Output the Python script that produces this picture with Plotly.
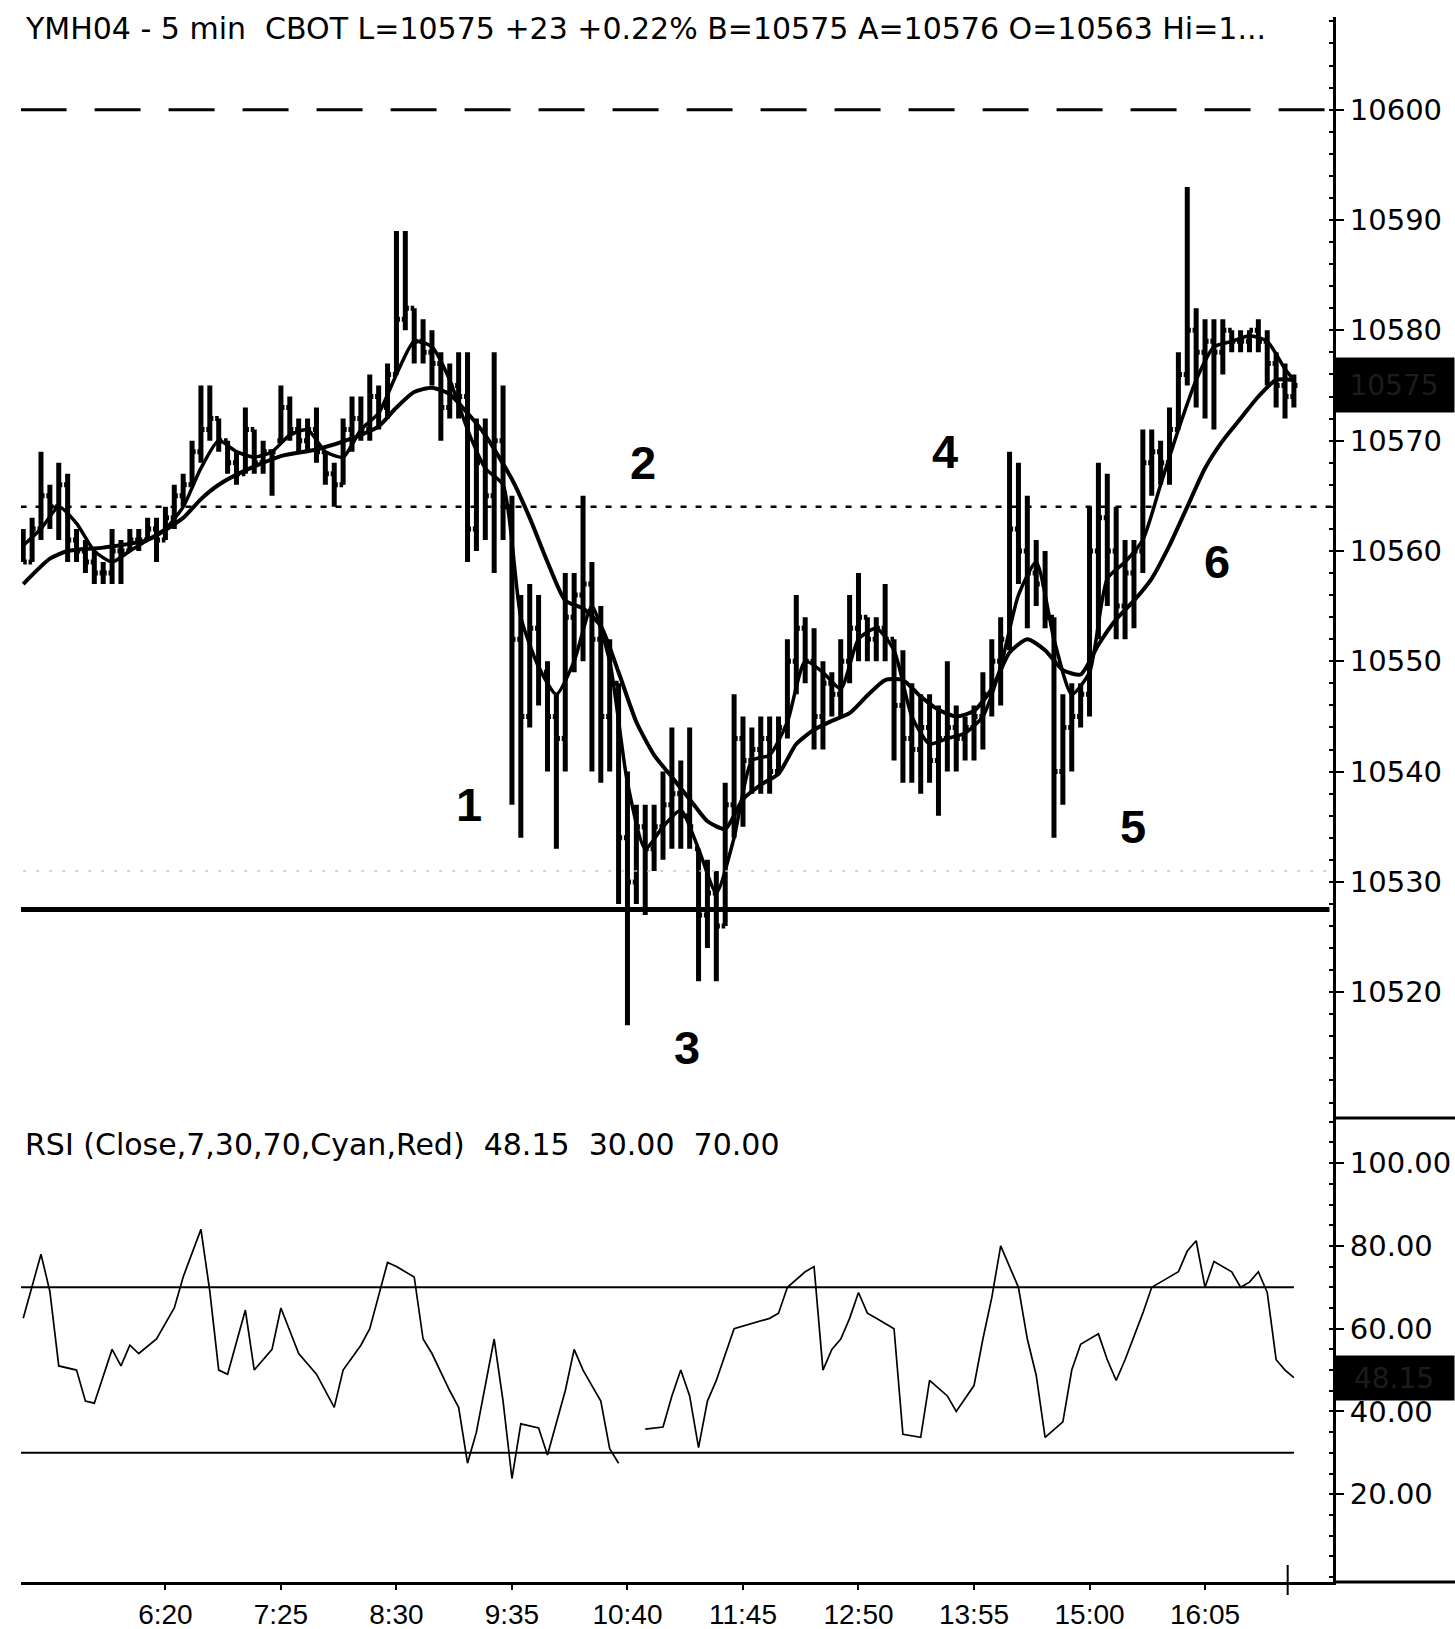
import plotly.graph_objects as go
from plotly.subplots import make_subplots

# ---- YM (mini-Dow) March 2004, 5-minute bars --------------------------------
bar_open = [
    10560, 10559, 10562, 10565, 10564, 10566, 10561, 10560, 10559, 10558,
    10558, 10560, 10560, 10561, 10561, 10562, 10561, 10563, 10565, 10566,
    10569, 10571, 10572, 10570, 10568, 10567, 10571, 10568, 10569, 10570,
    10573, 10571, 10570, 10571, 10569, 10567, 10566, 10571, 10572, 10571,
    10574, 10573, 10576, 10581, 10582, 10579, 10578, 10577, 10573, 10575,
    10574, 10562, 10568, 10565, 10570, 10564, 10552, 10545, 10553, 10549,
    10545, 10543, 10554, 10556, 10557, 10552, 10545, 10548, 10534, 10530,
    10535, 10533, 10535, 10537, 10538, 10536, 10533, 10527, 10529, 10526,
    10537, 10543, 10541, 10542, 10543, 10540, 10544, 10550, 10553, 10550,
    10545, 10548, 10547, 10550, 10553, 10554, 10552, 10553, 10552, 10546,
    10543, 10542, 10544, 10541, 10543, 10544, 10543, 10544, 10545, 10547,
    10550, 10552, 10562, 10560, 10558, 10557, 10554, 10540, 10544, 10545,
    10547, 10560, 10563, 10560, 10555, 10558, 10560, 10568, 10569, 10568,
    10571, 10576, 10580, 10578, 10579, 10578, 10580, 10579, 10579, 10580,
    10579, 10577, 10575, 10574,
]
bar_high = [
    10562, 10563, 10569, 10566, 10568, 10567, 10562, 10561, 10560, 10559,
    10562, 10561, 10562, 10562, 10563, 10563, 10564, 10566, 10567, 10570,
    10575, 10575, 10572, 10570, 10569, 10573, 10571, 10570, 10569, 10575,
    10574, 10572, 10572, 10573, 10569, 10568, 10572, 10574, 10574, 10576,
    10575, 10577, 10589, 10589, 10582, 10581, 10580, 10578, 10577, 10578,
    10578, 10572, 10572, 10578, 10575, 10565, 10556, 10557, 10556, 10550,
    10547, 10558, 10558, 10565, 10559, 10555, 10552, 10548, 10540, 10537,
    10537, 10537, 10540, 10544, 10541, 10544, 10533, 10532, 10531, 10539,
    10547, 10545, 10544, 10545, 10545, 10545, 10552, 10556, 10554, 10553,
    10550, 10549, 10552, 10556, 10558, 10554, 10554, 10557, 10552, 10551,
    10548, 10547, 10547, 10546, 10550, 10546, 10545, 10546, 10549, 10552,
    10554, 10569, 10568, 10565, 10561, 10560, 10554, 10547, 10548, 10548,
    10564, 10568, 10567, 10564, 10561, 10561, 10571, 10571, 10570, 10573,
    10578, 10593, 10582, 10581, 10581, 10581, 10580, 10580, 10580, 10581,
    10580, 10578, 10577, 10576,
]
bar_low = [
    10559, 10559, 10561, 10562, 10561, 10559, 10559, 10558, 10557, 10557,
    10557, 10557, 10560, 10560, 10561, 10559, 10561, 10562, 10564, 10566,
    10568, 10570, 10569, 10567, 10566, 10567, 10567, 10567, 10565, 10570,
    10570, 10569, 10569, 10568, 10566, 10564, 10566, 10569, 10570, 10570,
    10571, 10572, 10576, 10580, 10577, 10577, 10575, 10570, 10572, 10572,
    10559, 10560, 10561, 10558, 10561, 10537, 10534, 10544, 10546, 10540,
    10533, 10540, 10549, 10550, 10540, 10539, 10540, 10528, 10517, 10528,
    10527, 10531, 10532, 10533, 10533, 10533, 10521, 10524, 10521, 10526,
    10534, 10535, 10538, 10538, 10538, 10540, 10543, 10547, 10548, 10542,
    10542, 10545, 10545, 10548, 10550, 10550, 10550, 10550, 10541, 10539,
    10539, 10538, 10539, 10536, 10540, 10540, 10541, 10541, 10542, 10545,
    10546, 10551, 10557, 10553, 10555, 10553, 10534, 10537, 10540, 10544,
    10545, 10552, 10555, 10552, 10552, 10553, 10558, 10565, 10566, 10566,
    10571, 10575, 10573, 10572, 10571, 10576, 10578, 10578, 10578, 10578,
    10575, 10573, 10572, 10573,
]
bar_close = [
    10559, 10562, 10565, 10564, 10566, 10561, 10560, 10559, 10558, 10558,
    10560, 10560, 10561, 10561, 10562, 10561, 10563, 10565, 10566, 10569,
    10571, 10572, 10570, 10568, 10567, 10571, 10568, 10569, 10569, 10573,
    10571, 10570, 10571, 10569, 10567, 10566, 10571, 10572, 10571, 10574,
    10573, 10576, 10581, 10582, 10579, 10578, 10577, 10573, 10575, 10574,
    10562, 10568, 10565, 10570, 10564, 10552, 10545, 10553, 10549, 10545,
    10543, 10554, 10556, 10557, 10552, 10545, 10548, 10534, 10530, 10535,
    10533, 10535, 10537, 10538, 10536, 10535, 10527, 10529, 10526, 10537,
    10543, 10541, 10542, 10543, 10540, 10544, 10550, 10553, 10550, 10545,
    10548, 10547, 10550, 10553, 10554, 10552, 10553, 10552, 10546, 10543,
    10542, 10544, 10541, 10543, 10544, 10543, 10544, 10545, 10547, 10550,
    10552, 10562, 10560, 10558, 10557, 10554, 10540, 10544, 10545, 10547,
    10560, 10563, 10560, 10555, 10558, 10560, 10568, 10569, 10568, 10571,
    10576, 10580, 10578, 10579, 10578, 10580, 10579, 10579, 10580, 10579,
    10577, 10575, 10574, 10575,
]
bar_index = list(range(len(bar_close)))

# slow and fast moving averages (bar, value)
slow_ma_bar = [0, 3, 5, 9, 14, 18, 20, 22, 25, 29, 33, 37, 40, 42, 44, 46, 48, 50,
               52, 55, 57, 59, 61, 63, 65, 67, 69, 71, 73, 75, 77, 79, 81, 83, 85,
               87, 89, 91, 93, 95, 97, 99, 101, 103, 105, 107, 109, 111, 113, 115,
               117, 119, 121, 123, 125, 127, 129, 131, 133, 135, 137, 139, 141, 143]
slow_ma_value = [10557, 10559.3, 10560, 10560.3, 10561, 10563, 10564.7, 10566,
                 10567.3, 10568.6, 10569.2, 10570.2, 10571.3, 10573, 10574.4,
                 10574.8, 10574.2, 10572.5, 10570.5, 10566.5, 10563, 10559,
                 10555.5, 10554.8, 10553.2, 10549, 10544.5, 10541.5, 10539.5,
                 10537.5, 10535.5, 10534.8, 10537.5, 10538.8, 10539.8, 10542.5,
                 10543.8, 10544.6, 10545.3, 10546.9, 10548.3, 10548.3, 10546.8,
                 10545.6, 10545, 10545.5, 10547.5, 10550.8, 10552, 10551,
                 10549.2, 10548.8, 10551.5, 10553.8, 10555.5, 10557.5, 10560.5,
                 10564, 10567.5, 10570, 10572, 10574, 10575.5, 10575.5]

fast_ma_bar = list(range(0, 144, 2)) + [143]
fast_ma_value = [10560.5, 10562, 10564, 10562.5, 10560, 10559, 10560, 10561, 10562,
                 10564, 10567.5, 10570, 10569, 10568.5, 10569, 10570.5, 10571,
                 10569, 10568.5, 10571, 10572.5, 10576, 10579, 10578.5, 10575.5,
                 10571, 10567.5, 10566, 10554, 10549.5, 10547, 10550, 10555,
                 10550, 10539, 10533, 10535, 10536.5, 10533, 10529, 10534,
                 10541, 10541.5, 10544.5, 10550, 10549, 10547.5, 10552, 10553,
                 10551, 10545, 10542.5, 10543, 10543.5, 10545, 10549.5, 10556,
                 10559, 10552, 10547, 10549, 10557.5, 10559, 10561, 10566,
                 10571, 10575.5, 10578.5, 10579, 10579.5, 10579, 10576.5,
                 10575.5]

# RSI(7) vertices (bar, value); None marks the break in the series
rsi_bar = [0, 2, 3, 4, 6, 7, 8, 10, 11, 12, 13, 15, 17, 18, 20, 21, 22, 23, 25,
           26, 28, 29, 31, 33, 35, 36, 38, 39, 41, 42, 44, 45, 46, 48, 49, 50,
           51, 53, 54, 55, 56, 58, 59, 61, 62, 63, 65, 66, 67, 68,
           70, 72, 73, 74, 75, 76, 77, 78, 80, 82, 84, 85, 86, 88, 89, 90,
           91, 92, 93, 94, 95, 96, 98, 99, 101, 102, 104, 105, 107, 108, 109,
           110, 112, 113, 114, 115, 117, 118, 119, 121, 122, 123, 124, 126,
           127, 128, 130, 131, 132, 133, 134, 136, 137, 138, 139, 140, 141,
           142, 143]
rsi_value = [62.5, 78, 69, 51, 50, 42.5, 42, 55, 51, 56, 54, 57.5, 65, 72.5, 84,
             69, 50, 49, 64.5, 50, 55, 65, 54, 49, 41, 50, 56, 60, 76, 75, 72.5,
             57.5, 54, 45, 41, 27.5, 35, 57.5, 42.5, 23.8, 37, 36, 29.5, 45,
             55, 50, 42.5, 31, 27.5, None,
             35.75, 36.25, 43.75, 50, 43.75, 31.25, 42.5, 47.5, 60, 61.25,
             62.5, 63.75, 70, 73.75, 75, 50, 55, 57.5, 62.5, 68.75, 63.75,
             62.5, 60, 34.5, 33.75, 47.5, 43.75, 40, 46.25, 57.5, 67.5, 80,
             70, 57.5, 48.75, 33.75, 37.5, 50, 56.25, 58.75, 52.5, 47.5, 52.5,
             63.75, 70, 71.25, 73.75, 78.75, 81.25, 70, 76.25, 73.75, 70,
             71.25, 73.75, 68.75, 52.5, 50, 48.15]

# reference levels
upper_level = 10600      # long-dashed
pivot_level = 10564      # dotted
faint_level = 10531      # light dotted
support_level = 10527.5  # heavy solid
rsi_low, rsi_high = 30, 70
last_price, last_rsi = 10575, 48.15

wave_labels = ["1", "2", "3", "4", "5", "6"]
wave_bar = [50.2, 69.8, 74.7, 103.7, 124.9, 134.4]
wave_price = [10537, 10568, 10515, 10569, 10535, 10559]

price_ticks = [10520, 10530, 10540, 10550, 10560, 10570, 10580, 10590, 10600]
rsi_ticks = [20, 40, 60, 80, 100]

tick_bars = [16, 29, 42, 55, 68, 81, 94, 107, 120, 133]
tick_text = ["6:20", "7:25", "8:30", "9:35", "10:40", "11:45", "12:50",
             "13:55", "15:00", "16:05"]

title_text = ("YMH04 - 5 min  CBOT L=10575 +23 +0.22% B=10575 A=10576 "
              "O=10563 Hi=1...")
rsi_title = "RSI (Close,7,30,70,Cyan,Red)  48.15  30.00  70.00"

# ---- figure -----------------------------------------------------------------
W, H = 1455, 1629
X0, X1 = 21 / W, 1333 / W
P_TOP, P_BOT = 1 - 17 / H, 1 - 1118 / H
R_BOT = 1 - 1582 / H

fig = make_subplots(rows=2, cols=1, shared_xaxes=True, vertical_spacing=0)

fig.add_trace(go.Ohlc(
    x=bar_index, open=bar_open, high=bar_high, low=bar_low, close=bar_close,
    increasing=dict(line=dict(color="black", width=5)),
    decreasing=dict(line=dict(color="black", width=5)),
    tickwidth=0.4, showlegend=False, hoverinfo="skip"), row=1, col=1)

fig.add_trace(go.Scatter(x=slow_ma_bar, y=slow_ma_value, mode="lines",
                         line=dict(color="black", width=4, shape="spline",
                                   smoothing=0.6),
                         showlegend=False, hoverinfo="skip"), row=1, col=1)
fig.add_trace(go.Scatter(x=fast_ma_bar, y=fast_ma_value, mode="lines",
                         line=dict(color="black", width=3.5, shape="spline",
                                   smoothing=0.6),
                         showlegend=False, hoverinfo="skip"), row=1, col=1)

fig.add_trace(go.Scatter(x=rsi_bar, y=rsi_value, mode="lines",
                         line=dict(color="black", width=1.7),
                         connectgaps=False, showlegend=False,
                         hoverinfo="skip"), row=2, col=1)

last_bar = bar_index[-1]
# price levels
fig.add_shape(type="line", xref="x", yref="y", x0=-0.3, x1=147.5,
              y0=upper_level, y1=upper_level,
              line=dict(color="black", width=3, dash="46px,28px"))
fig.add_shape(type="line", xref="x", yref="y", x0=-0.3, x1=147.5,
              y0=pivot_level, y1=pivot_level,
              line=dict(color="black", width=2.5, dash="6px,9px"))
fig.add_shape(type="line", xref="x", yref="y", x0=0, x1=147,
              y0=faint_level, y1=faint_level,
              line=dict(color="#c4c4c4", width=1.5, dash="3px,10px"))
fig.add_shape(type="line", xref="x", yref="y", x0=-0.3, x1=147,
              y0=support_level, y1=support_level,
              line=dict(color="black", width=5))
# RSI bands
for lvl in (rsi_low, rsi_high):
    fig.add_shape(type="line", xref="x2", yref="y2", x0=-0.3, x1=last_bar,
                  y0=lvl, y1=lvl, line=dict(color="black", width=2))

# frame pieces outside the plotting area
fig.add_shape(type="line", xref="paper", yref="paper", x0=X1, x1=1,
              y0=P_BOT, y1=P_BOT, line=dict(color="black", width=3))
fig.add_shape(type="line", xref="paper", yref="paper", x0=X1, x1=1,
              y0=R_BOT, y1=R_BOT, line=dict(color="black", width=3))
fig.add_shape(type="line", xref="x2", yref="paper", x0=142.3, x1=142.3,
              y0=1 - 1565 / H, y1=1 - 1595 / H, line=dict(color="black", width=2))

# wave count labels
for t, xb, yp in zip(wave_labels, wave_bar, wave_price):
    fig.add_annotation(x=xb, y=yp, xref="x", yref="y", text=f"<b>{t}</b>",
                       showarrow=False,
                       font=dict(family="Liberation Sans", size=47, color="black"))

# last value markers on the scales
fig.add_annotation(x=X1, xref="paper", y=last_price, yref="y", xanchor="left",
                   text=f"{last_price}", showarrow=False, width=118, height=52,
                   bgcolor="black", font=dict(family="DejaVu Sans", size=28,
                                              color="#1c1c1c"))
fig.add_annotation(x=X1, xref="paper", y=last_rsi, yref="y2", xanchor="left",
                   text=f"{last_rsi:.2f}", showarrow=False, width=118, height=42,
                   bgcolor="black", font=dict(family="DejaVu Sans", size=28,
                                              color="#1c1c1c"))

# pane titles
fig.add_annotation(x=23 / W, y=1 - 29 / H, xref="paper", yref="paper",
                   xanchor="left", yanchor="middle", text=title_text,
                   showarrow=False,
                   font=dict(family="DejaVu Sans", size=30, color="black"))
fig.add_annotation(x=23 / W, y=1 - 1144 / H, xref="paper", yref="paper",
                   xanchor="left", yanchor="middle", text=rsi_title,
                   showarrow=False,
                   font=dict(family="DejaVu Sans", size=30, color="black"))

axis_font = dict(family="DejaVu Sans", size=29, color="black")
fig.update_layout(
    width=W, height=H, margin=dict(l=0, r=0, t=0, b=0),
    paper_bgcolor="white", plot_bgcolor="white", showlegend=False,
    xaxis=dict(domain=[X0, X1], range=[-0.25, 147.4], showgrid=False,
               zeroline=False, showticklabels=False, ticks="",
               rangeslider=dict(visible=False)),
    xaxis2=dict(domain=[X0, X1], range=[-0.25, 147.4], showgrid=False,
                zeroline=False, tickmode="array", tickvals=tick_bars,
                ticktext=tick_text, ticks="outside", ticklen=5, tickwidth=2,
                tickcolor="black", showline=True, linecolor="black",
                linewidth=3, tickfont=dict(family="Liberation Sans", size=28,
                                           color="black"),
                rangeslider=dict(visible=False)),
    yaxis=dict(domain=[P_BOT, P_TOP], range=[10508.6, 10608.4], side="right",
               showgrid=False, zeroline=False, tickmode="array",
               tickvals=price_ticks, ticktext=[str(v) for v in price_ticks],
               ticks="outside", ticklen=8, tickwidth=2, tickcolor="black",
               showline=True, linecolor="black", linewidth=3,
               tickfont=axis_font,
               minor=dict(ticks="inside", ticklen=4, tickwidth=1.5,
                          tickcolor="black", dtick=2, showgrid=False)),
    yaxis2=dict(domain=[R_BOT, P_BOT], range=[-1.2, 110.9], side="right",
                showgrid=False, zeroline=False, tickmode="array",
                tickvals=rsi_ticks, ticktext=[f"{v:.2f}" for v in rsi_ticks],
                ticks="outside", ticklen=8, tickwidth=2, tickcolor="black",
                showline=True, linecolor="black", linewidth=3,
                tickfont=axis_font,
                minor=dict(ticks="inside", ticklen=4, tickwidth=1.5,
                           tickcolor="black", dtick=5, showgrid=False)),
)

fig.write_html("out.html")
